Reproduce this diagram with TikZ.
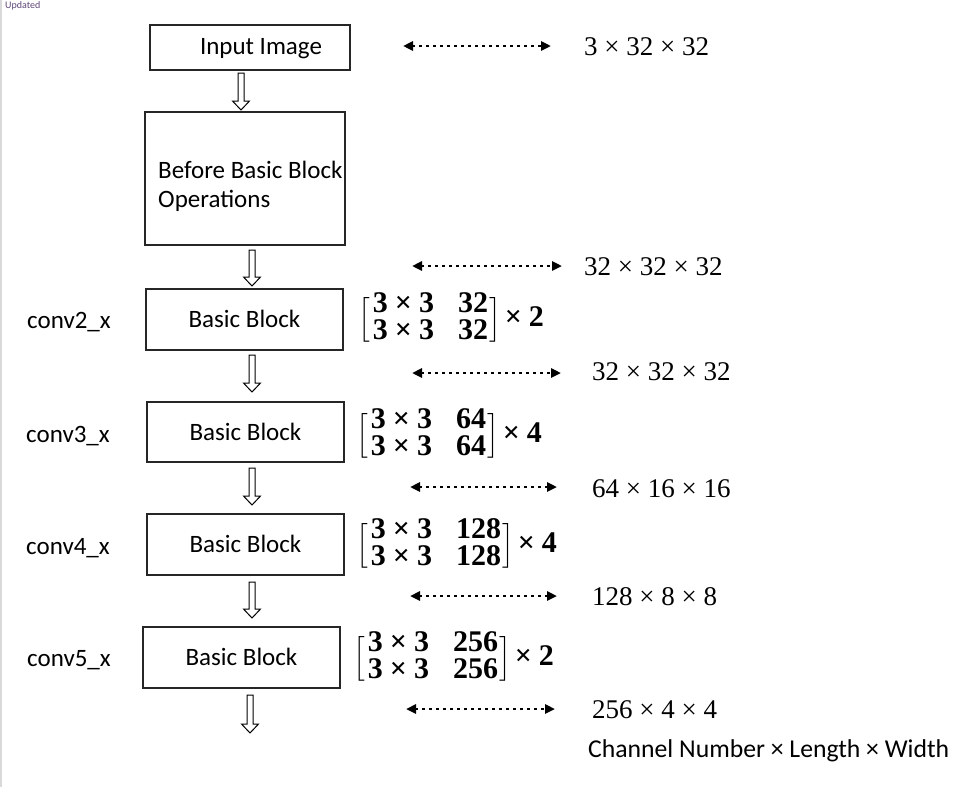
\documentclass[tikz,border=0pt]{standalone}
\usepackage{amsmath}
\usepackage{fontspec}
\setmainfont{Carlito}
\newfontfamily\numfont{Liberation Serif}
\usetikzlibrary{arrows.meta}
\newcommand{\hollowdown}[3]{%
  \draw[hollow] ({#1-3},#2) -- ({#1+3},#2) -- ({#1+3},{#3-9}) -- ({#1+8.5},{#3-9})
    -- (#1,#3) -- ({#1-8.5},{#3-9}) -- ({#1-3},{#3-9}) -- cycle;}
\newcommand{\blockmat}[2]{{\delimiterfactor=760 \delimitershortfall=14pt
  $\left[\begin{array}{@{\hspace{3pt}}c@{\hspace{24pt}}c@{\hspace{1pt}}}
  \text{\numfont\bfseries 3\hspace{7pt}×\hspace{7pt}3} & \text{\numfont\bfseries #1}\\
  \text{\numfont\bfseries 3\hspace{7pt}×\hspace{7pt}3} & \text{\numfont\bfseries #1}\end{array}\right]$%
  \hspace{4pt}{\numfont\bfseries ×\hspace{7pt}#2}}}
\begin{document}
\begin{tikzpicture}[x=1pt,y=-1pt,
  box/.style={draw=black!85, line width=1.3pt, inner sep=0pt},
  lbl/.style={font=\fontsize{25}{29}\selectfont, text height=16.1pt, text depth=0pt, inner sep=0pt},
  dim/.style={font=\fontsize{27}{30}\selectfont\numfont, anchor=west, inner sep=0pt, text height=18.2pt, text depth=0pt},
  dimarrow/.style={line width=2.6pt, dash pattern=on 3pt off 4pt,
    {Triangle[length=10pt,width=9pt]}-{Triangle[length=10pt,width=9pt]}},
  hollow/.style={draw=black, line width=1pt, fill=white},
  mat/.style={font=\fontsize{30}{26}\selectfont, anchor=west, inner sep=0pt}
]
\useasboundingbox (0,0) rectangle (977,787);
\draw[gray!30, line width=1.5pt] (1,0) -- (1,787);
\node[anchor=north west, inner sep=0pt, font=\fontsize{10}{11}\selectfont, text={rgb,255:red,95;green,70;blue,120}] (upd) at (5,1) {Updated};

% boxes
\node[box, minimum width=200pt, minimum height=45pt] (input) at (250,47.5) {};
\node[lbl] (inputtxt) at (261,46) {Input Image};
\node[box, minimum width=200pt, minimum height=133pt] (before) at (245,178.5) {};
\node[lbl, anchor=west] (beforet1) at (158,170) {Before Basic Block};
\node[lbl, anchor=west] (beforet2) at (158,199) {Operations};
\node[box, lbl, minimum width=197pt, minimum height=61pt] (b2) at (244.5,319.5) {Basic Block};
\node[box, lbl, minimum width=197pt, minimum height=60pt] (b3) at (245.5,432) {Basic Block};
\node[box, lbl, minimum width=197pt, minimum height=61pt] (b4) at (245.5,544.5) {Basic Block};
\node[box, lbl, minimum width=197pt, minimum height=61pt] (b5) at (241.5,657.5) {Basic Block};

% stage labels
\node[lbl] (c2) at (69,320) {conv2\_x};
\node[lbl] (c3) at (68,434) {conv3\_x};
\node[lbl] (c4) at (68,546) {conv4\_x};
\node[lbl] (c5) at (69,658) {conv5\_x};

% matrices
\node[mat] (m2) at (358,320) {\blockmat{32}{2}};
\node[mat] (m3) at (356,436) {\blockmat{64}{4}};
\node[mat] (m4) at (356,546) {\blockmat{128}{4}};
\node[mat] (m5) at (353,659) {\blockmat{256}{2}};

% hollow flow arrows
\hollowdown{241}{73}{110}
\hollowdown{252}{250}{286}
\hollowdown{252}{355}{392}
\hollowdown{252}{468}{505}
\hollowdown{252}{582}{618}
\hollowdown{250}{695}{733}

% dimension arrows
\coordinate (d1l) at (403,46);  \coordinate (d1r) at (551,46);
\coordinate (d2l) at (412,266); \coordinate (d2r) at (562,266);
\coordinate (d3l) at (412,373); \coordinate (d3r) at (561,373);
\coordinate (d4l) at (410,487); \coordinate (d4r) at (557,487);
\coordinate (d5l) at (410,596); \coordinate (d5r) at (557,596);
\coordinate (d6l) at (406,709); \coordinate (d6r) at (555,709);
\foreach \i in {1,...,6} \draw[dimarrow] (d\i l) -- (d\i r);

% dimension texts
\node[dim] (t1) at (584,46) {3 × 32 × 32};
\node[dim] (t2) at (584,266) {32 × 32 × 32};
\node[dim] (t3) at (592,371) {32 × 32 × 32};
\node[dim] (t4) at (592,488) {64 × 16 × 16};
\node[dim] (t5) at (592,596) {128 × 8 × 8};
\node[dim] (t6) at (592,709) {256 × 4 × 4};
\node[lbl, anchor=west, font=\fontsize{25.7}{29}\selectfont] (legend) at (588,749) {Channel Number × Length × Width};
\end{tikzpicture}
\end{document}
